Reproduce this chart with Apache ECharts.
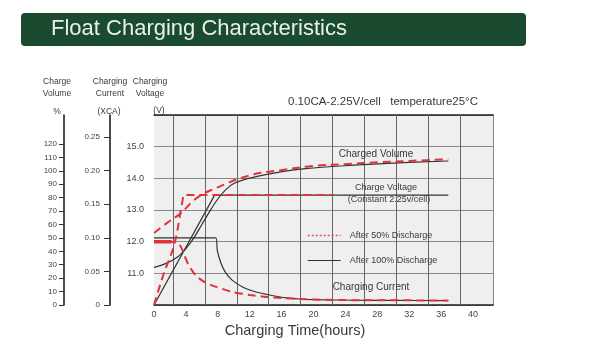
<!DOCTYPE html>
<html>
<head>
<meta charset="utf-8">
<script src="https://cdn.jsdelivr.net/npm/echarts@6/dist/echarts.min.js"></script>
<style>
  html, body { margin: 0; padding: 0; background: #fff; }
  #chart { width: 600px; height: 353px; }
</style>
</head>
<body>
<div id="chart"></div>
<script>
// [hours, value] pairs
var volume50 = [[0, 53.7], [1.6, 61], [3.4, 68.6], [4.7, 76.5], [5.9, 82], [7.3, 86], [8.8, 89.7], [10.3, 93.5], [12, 96.5], [13.2, 98.3], [15.7, 100.3], [19.9, 103.6], [24.2, 105.1], [28.3, 106.4], [32.5, 107.5], [36.9, 108.6]];
var volume100 = [[0, 28], [1.5, 31], [3, 36], [4, 42], [5, 50], [6, 60], [7, 70], [8, 79], [9, 86], [10, 90.5], [12, 94.5], [15, 98.3], [19, 101.6], [25, 104.2], [30, 105.8], [36.9, 107.3]];
var voltage50 = [[0, 10], [0.6, 10.5], [1.3, 11.05], [2.0, 11.5], [2.5, 11.85], [2.9, 12.3], [3.3, 12.9], [3.7, 13.47], [22.4, 13.47]];
var voltage100 = [[0, 10], [7.6, 13.47], [36.9, 13.47]];
var current50 = [[0, 0.094], [2.2, 0.094], [3.3, 0.088], [3.8, 0.074], [4.4, 0.058], [5.3, 0.043], [6.5, 0.033], [7.8, 0.027], [9.8, 0.0195], [12, 0.015], [14.1, 0.012], [16.1, 0.0104], [18.2, 0.0088], [22.4, 0.0075], [28, 0.007], [36.9, 0.0068]];
var current50Start = [[0, 0.094], [2.2, 0.094]];
var current100 = [[0, 0.1], [7.76, 0.1], [7.92, 0.082], [8.39, 0.0625], [9.0, 0.0477], [9.8, 0.037], [11.1, 0.0268], [12.8, 0.0194], [14.5, 0.0149], [16.6, 0.0106], [18.2, 0.0089], [20, 0.0079], [25, 0.0071], [30, 0.0068], [36.9, 0.0066]];

var volumeTicks = [0, 10, 20, 30, 40, 50, 60, 70, 80, 90, 100, 110, 120];
var currentTicks = [0, 0.05, 0.1, 0.15, 0.2, 0.25];

var FONT = 'Liberation Sans, Arial, sans-serif';
var RED = '#e0323c';
var BLACK = '#333';

function txt(x, y, s, size, align) {
  return {
    type: 'text', x: x, y: y, z: 10,
    style: { text: s, fill: '#3a3a3a', fontSize: size, fontFamily: FONT, align: align || 'center', verticalAlign: 'middle' }
  };
}

function redLine(name, data, axis) {
  return {
    name: name, type: 'line', data: data, yAxisIndex: axis, symbol: 'none', z: 4,
    lineStyle: { color: RED, width: 2, type: [8, 5] }, itemStyle: { color: RED }
  };
}
function blackLine(name, data, axis) {
  return {
    name: name, type: 'line', data: data, yAxisIndex: axis, symbol: 'none', z: 3,
    lineStyle: { color: BLACK, width: 1.2 }, itemStyle: { color: BLACK }
  };
}

var chart = echarts.init(document.getElementById('chart'), null, { renderer: 'canvas' });

var option = {
  animation: false,
  backgroundColor: '#fff',
  textStyle: { fontFamily: FONT },
  grid: [
    { left: 154, right: 107, top: 115, bottom: 48, show: true, backgroundColor: '#efefef', borderWidth: 0 },
    { left: 173, right: 140, top: 115, bottom: 48, show: false }
  ],
  legend: {
    orient: 'vertical', left: 302, top: 226, itemWidth: 33, itemHeight: 10, itemGap: 16,
    selectedMode: false,
    textStyle: { fontSize: 9, color: '#3a3a3a', fontFamily: FONT, padding: [0, 0, 0, 4] },
    data: [
      { name: 'After 50% Discharge', itemStyle: { opacity: 0 }, lineStyle: { color: '#e8505a', width: 1.5, type: [2, 2] } },
      { name: 'After 100% Discharge', itemStyle: { opacity: 0 }, lineStyle: { color: BLACK, width: 1.2, type: 'solid' } }
    ]
  },
  xAxis: [
    {
      gridIndex: 0, type: 'value', min: 0, max: 42.5, interval: 4, position: 'bottom',
      axisLine: { onZero: false, lineStyle: { color: '#222', width: 1.5 } },
      axisTick: { show: false }, splitLine: { show: false },
      axisLabel: { fontSize: 9, color: '#444', margin: 5, showMaxLabel: false, fontFamily: FONT }
    },
    {
      gridIndex: 0, type: 'value', min: 0, max: 42.5, position: 'top',
      axisLine: { onZero: false, lineStyle: { color: '#222', width: 1.5 } },
      axisTick: { show: false }, axisLabel: { show: false }, splitLine: { show: false }
    },
    {
      gridIndex: 1, type: 'value', min: 0, max: 9, interval: 1, z: 1,
      axisLine: { show: false }, axisTick: { show: false }, axisLabel: { show: false },
      splitLine: { show: true, lineStyle: { color: '#666', width: 1 } }
    }
  ],
  yAxis: [
    {
      gridIndex: 0, type: 'value', position: 'left', offset: 90, min: 0, max: 141.6, interval: 10,
      axisLine: { show: true, onZero: false, lineStyle: { color: '#111', width: 1.5 } },
      axisTick: { show: true, length: 5, customValues: volumeTicks, lineStyle: { color: '#333' } },
      axisLabel: { customValues: volumeTicks, fontSize: 8, color: '#444', margin: 7, fontFamily: FONT },
      splitLine: { show: false }
    },
    {
      gridIndex: 0, type: 'value', position: 'left', offset: 44, min: 0, max: 0.2827, interval: 0.05,
      axisLine: { show: true, onZero: false, lineStyle: { color: '#111', width: 1.5 } },
      axisTick: { show: true, length: 6, customValues: currentTicks, lineStyle: { color: '#333' } },
      axisLabel: {
        customValues: currentTicks, fontSize: 8, color: '#444', margin: 10, fontFamily: FONT,
        formatter: function (v) { return v === 0 ? '0' : v.toFixed(2); }
      },
      splitLine: { show: false }
    },
    {
      gridIndex: 0, type: 'value', position: 'left', offset: 0, min: 10, max: 16, interval: 1,
      axisLine: { show: false, onZero: false }, axisTick: { show: false },
      axisLabel: {
        fontSize: 9, color: '#444', margin: 10, showMinLabel: false, showMaxLabel: false, fontFamily: FONT,
        formatter: function (v) { return v.toFixed(1); }
      },
      splitLine: { show: true, lineStyle: { color: '#8a8a8a', width: 1 } }
    },
    {
      gridIndex: 0, type: 'value', position: 'right', min: 0, max: 1,
      axisLine: { show: true, onZero: false, lineStyle: { color: '#888', width: 1 } },
      axisTick: { show: false }, axisLabel: { show: false }, splitLine: { show: false }
    },
    { gridIndex: 1, type: 'value', show: false, min: 0, max: 1 }
  ],
  graphic: [
    { type: 'rect', shape: { x: 21, y: 13, width: 505, height: 33, r: 4 }, style: { fill: '#1b4b2f' } },
    { type: 'text', x: 51, y: 29, style: { text: 'Float Charging Characteristics', fill: '#e9f0ea', fontSize: 22, fontFamily: FONT, align: 'left', verticalAlign: 'middle' } },

    txt(57, 82, 'Charge', 8.5), txt(57, 94, 'Volume', 8.5), txt(57, 112, '%', 8.5),
    txt(110, 82, 'Charging', 8.5), txt(110, 94, 'Current', 8.5), txt(109, 112, '(XCA)', 8.5),
    txt(150, 82, 'Charging', 8.5), txt(150, 94, 'Voltage', 8.5), txt(159, 111, '(V)', 8.5),

    txt(288, 102, '0.10CA-2.25V/cell   temperature25°C', 11.5, 'left'),
    txt(376, 154, 'Charged Volume', 10),
    txt(386, 188, 'Charge Voltage', 9),
    txt(389, 200, '(Constant 2.25v/cell)', 9),
    txt(371, 287, 'Charging Current', 10),
    txt(295, 331, 'Charging Time(hours)', 14.5)
  ],
  series: [
    blackLine('After 100% Discharge', volume100, 0),
    blackLine('After 100% Discharge', voltage100, 2),
    blackLine('After 100% Discharge', current100, 1),
    redLine('After 50% Discharge', volume50, 0),
    redLine('After 50% Discharge', voltage50, 2),
    redLine('After 50% Discharge', current50, 1),
    {
      name: 'After 50% Discharge', type: 'line', data: current50Start, yAxisIndex: 1, symbol: 'none', z: 4,
      lineStyle: { color: RED, width: 3.5 }
    }
  ]
};

option.series[0].smooth = 0.35;
option.series[3].smooth = 0.35;
option.series[2].smooth = 0.15;
option.series[5].smooth = 0.2;

chart.setOption(option);
</script>
</body>
</html>
